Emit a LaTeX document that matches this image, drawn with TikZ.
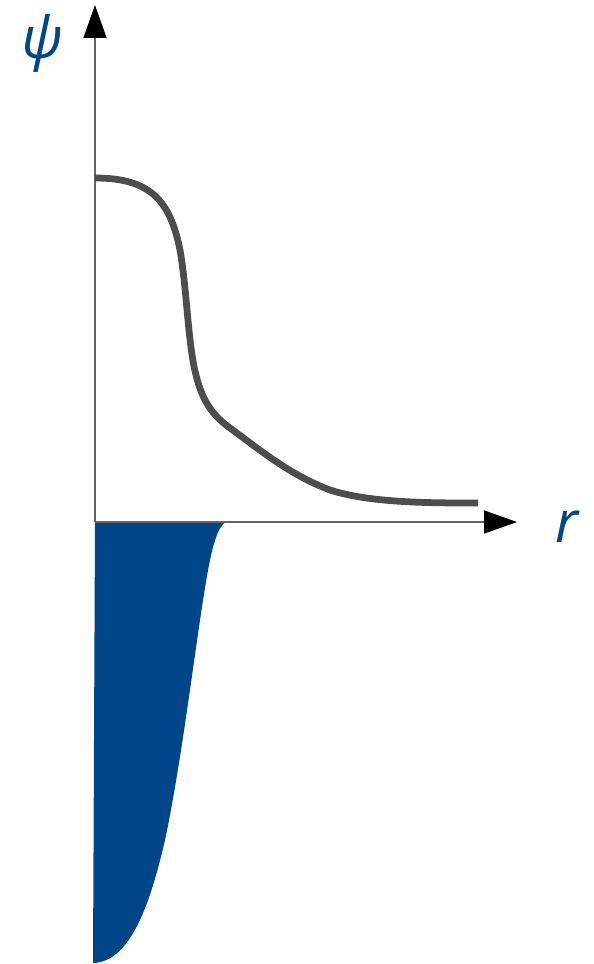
\documentclass[tikz,border=0pt]{standalone}
\usepackage{fontspec}
\setmainfont{Open Sans}
\usepackage{tikz}
\usetikzlibrary{arrows.meta}

\definecolor{psiblue}{RGB}{0,70,136}
\definecolor{curvegray}{RGB}{77,77,77}
\definecolor{axisgray}{RGB}{100,100,100}

\begin{document}
\begin{tikzpicture}[
    x=0.02cm, y=-0.02cm,
    axis/.style={draw=axisgray, line width=0.03cm,
                 -{Triangle[length=0.66cm, width=0.46cm, color=black]}},
    wave/.style={draw=curvegray, line width=0.135cm},
    density/.style={fill=psiblue, draw=none},
    axlabel/.style={inner sep=0pt, text=psiblue, font=\fontsize{33}{36}\selectfont\itshape},
]
\useasboundingbox (0,0) rectangle (593,964);

% Axes
\coordinate (origin) at (95,522);
\coordinate (ytip) at (95,5);
\coordinate (xtip) at (517,522);

% Filled region below the axis
\fill[density] (origin) -- (226,522)
    .. controls (218,526) and (212,545) .. (206,582)
    .. controls (196,640) and (182,760) .. (165,840)
    .. controls (150,905) and (130,962) .. (93,963)
    -- cycle;

\draw[axis] (origin) -- (ytip);
\draw[axis] (origin) -- (xtip);

% Curve
\draw[wave] (95,178) .. controls (150,178) and (170,200) .. (180,250)
    .. controls (187,290) and (188,345) .. (196,375)
    .. controls (202,400) and (212,415) .. (230,428)
    .. controls (260,450) and (290,475) .. (330,490)
    .. controls (370,503) and (430,503) .. (478,503);

% Labels
\node[axlabel] (psi) at (42,43) {ψ};
\node[axlabel] (rlab) at (567,527) {r};
\end{tikzpicture}
\end{document}
